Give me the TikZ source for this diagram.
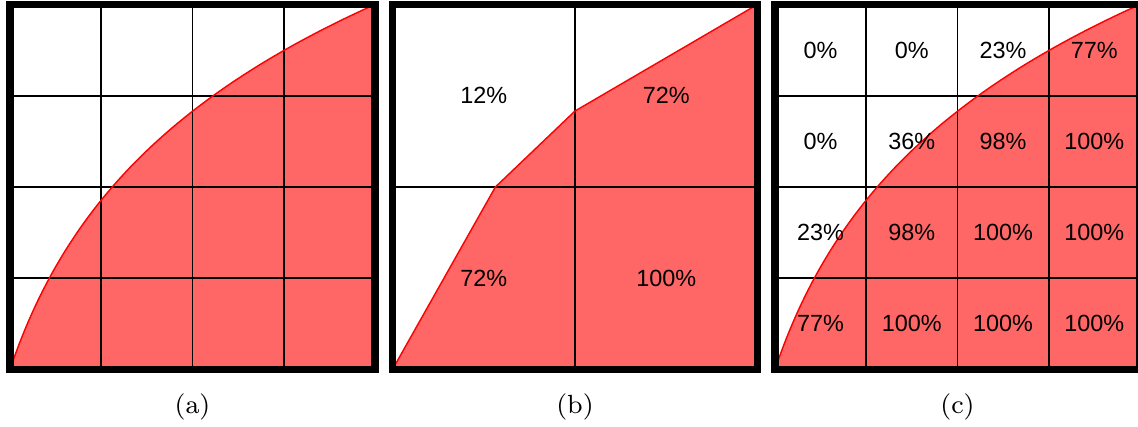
\documentclass[tikz,border=0pt]{standalone}
\usepackage{fontspec}
\newfontfamily\pctfont{Liberation Sans}
\usepackage{tikz}
\usetikzlibrary{positioning}

\begin{document}
\begin{tikzpicture}[
        x=1cm, y=1cm,
        frame/.style={draw=black, line width=2.2pt},
        gridline/.style={draw=black, line width=0.6pt},
        area/.style={fill=red!60, draw=none},
        edge/.style={draw=red, line width=0.45pt},
        pct/.style={font=\pctfont\fontsize{7.3}{8}\selectfont, inner sep=0pt},
        caption/.style={font=\fontsize{8.2}{10}\selectfont, inner sep=0pt}
    ]

    % page size of the reference
    \useasboundingbox (-0.1096,-0.630) rectangle (12.362,4.049);

    % ==========================================
    % (a) exact curve on a 4x4 grid
    % ==========================================
    \begin{scope}[shift={(0,0)}]
        \fill[area] (0,0) -- plot[domain=0:1, samples=80] ({4*\x},{4*ln(1+5.6*\x)/ln(6.6)}) -- (4,0) -- cycle;
        \draw[gridline] (0,0) grid (4,4);
        \draw[edge] plot[domain=0:1, samples=80] ({4*\x},{4*ln(1+5.6*\x)/ln(6.6)});
        \draw[frame] (0,0) rectangle (4,4);
        \node[caption] (cap_a) at (2,-0.411) {(a)};
    \end{scope}

    % ==========================================
    % (b) piecewise linear curve on a 2x2 grid
    % ==========================================
    \begin{scope}[shift={(4.192,0)}]
        \coordinate (b_start) at (0,0);
        \coordinate (b_knee1) at (1.128,2);
        \coordinate (b_knee2) at (2,2.832);
        \coordinate (b_end) at (4,4);

        \fill[area] (b_start) -- (b_knee1) -- (b_knee2) -- (b_end) -- (4,0) -- cycle;
        \draw[gridline, step=2] (0,0) grid (4,4);
        \draw[edge] (b_start) -- (b_knee1) -- (b_knee2) -- (b_end);
        \draw[frame] (0,0) rectangle (4,4);

        \node[pct] (pct_b_11) at (1,3) {12\%};
        \node[pct] (pct_b_12) at (3,3) {72\%};
        \node[pct] (pct_b_21) at (1,1) {72\%};
        \node[pct] (pct_b_22) at (3,1) {100\%};

        \node[caption] (cap_b) at (2,-0.411) {(b)};
    \end{scope}

    % ==========================================
    % (c) coverage of each cell on a 4x4 grid
    % ==========================================
    \begin{scope}[shift={(8.384,0)}]
        \fill[area] (0,0) -- plot[domain=0:1, samples=80] ({4*\x},{4*ln(1+5.6*\x)/ln(6.6)}) -- (4,0) -- cycle;
        \draw[gridline] (0,0) grid (4,4);
        \draw[edge] plot[domain=0:1, samples=80] ({4*\x},{4*ln(1+5.6*\x)/ln(6.6)});
        \draw[frame] (0,0) rectangle (4,4);

        \foreach \r/\vals in {3/{0,0,23,77}, 2/{0,36,98,100}, 1/{23,98,100,100}, 0/{77,100,100,100}} {
            \foreach \v [count=\c] in \vals {
                \node[pct] (pct_c_\r\c) at (\c-0.5,\r+0.5) {\v\%};
            }
        }

        \node[caption] (cap_c) at (2,-0.411) {(c)};
    \end{scope}

\end{tikzpicture}
\end{document}
